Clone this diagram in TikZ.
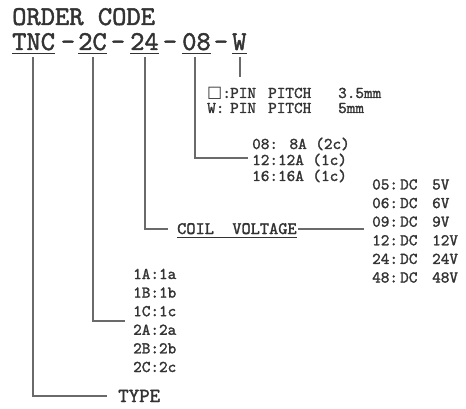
\documentclass[tikz,border=0pt]{standalone}
\usepackage{fontspec}
\newfontfamily\lmt[FakeBold=1.6]{lmmono10-regular.otf}
\newfontfamily\symf{DejaVu Sans}
\definecolor{ink}{HTML}{333333}
\definecolor{wirec}{HTML}{6A6A6A}
\begin{document}
\begin{tikzpicture}[x=1pt,y=-1pt,
  big/.style={anchor=base west,inner sep=0pt,text=ink,font=\lmt\fontsize{27.2}{27.2}\selectfont},
  sm/.style={anchor=base west,inner sep=0pt,text=ink,font=\lmt\fontsize{16.4}{16.4}\selectfont},
  wire/.style={draw=wirec,line width=1.3pt},
  uline/.style={draw=ink,line width=1.2pt}]
\useasboundingbox[fill=white] (0,0) rectangle (466,409);

% header and code
\node[big] (hdr) at (12,25) {ORDER CODE};
\node[big] (tnc) at (12,50) {TNC};
\node[big,anchor=base] (d1) at (68,50) {-};
\node[big] (c2c) at (78,50) {2C};
\node[big,anchor=base] (d2) at (118,50) {-};
\node[big] (c24) at (130,50) {24};
\node[big,anchor=base] (d3) at (170,50) {-};
\node[big] (c08) at (182,50) {08};
\node[big,anchor=base] (d4) at (221,50) {-};
\node[big] (cw) at (232,50) {W};
\foreach \n in {tnc,c2c,c24,c08,cw}
  \draw[uline] ([yshift=-3.5pt]\n.base west) -- ([yshift=-3.5pt]\n.base east);

% pin pitch
\node[sm] (p1) at (207,98) {\makebox[23pt][l]{{\symf\fontsize{16}{16}\selectfont □}:}\makebox[38pt][l]{PIN}\makebox[70pt][l]{PITCH}3.5mm};
\node[sm] (p2) at (207,113) {\makebox[23pt][l]{W:}\makebox[38pt][l]{PIN}\makebox[70pt][l]{PITCH}5mm};

% current
\node[sm] (i08) at (252,149) {08: 8A (2c)};
\node[sm] (i12) at (252,165) {12:12A (1c)};
\node[sm] (i16) at (252,181) {16:16A (1c)};

% coil voltage
\node[anchor=base west,inner sep=0pt,text=ink,font=\lmt\fontsize{17.5}{17.5}\selectfont] (coil) at (177,234) {COIL~~VOLTAGE};
\draw[uline] (177,237.5) -- (297,237.5);

\foreach \k/\v [count=\i from 0] in {05/5V,06/6V,09/9V,12/12V,24/24V,48/48V}
  \node[sm] (v\k) at (372,{189.5+18.6*\i}) {\makebox[28pt][l]{\k:}\makebox[32pt][l]{DC}\v};

% type
\foreach \k/\v [count=\i from 0] in {1A/1a,1B/1b,1C/1c,2A/2a,2B/2b,2C/2c}
  \node[sm] (t\k) at (133,{279+18.6*\i}) {\k:\v};
\node[anchor=base west,inner sep=0pt,text=ink,font=\lmt\fontsize{20}{20}\selectfont] (type) at (118,402) {TYPE};

% connectors
\coordinate (aw) at (240,57);   \coordinate (ew) at (240,77);
\coordinate (a08) at (195,57);  \coordinate (e08) at (248,158);
\coordinate (a24) at (145,57);  \coordinate (e24) at (168,229);
\coordinate (a2c) at (93,57);   \coordinate (e2c) at (125,321);
\coordinate (atn) at (33,57);   \coordinate (etn) at (107,396);
\coordinate (cs) at (298,229);  \coordinate (ce) at (364,229);
\draw[wire] (aw) -- (ew);
\draw[wire] (a08) |- (e08);
\draw[wire] (a24) |- (e24);
\draw[wire] (a2c) |- (e2c);
\draw[wire] (atn) |- (etn);
\draw[wire] (cs) -- (ce);
\end{tikzpicture}
\end{document}
